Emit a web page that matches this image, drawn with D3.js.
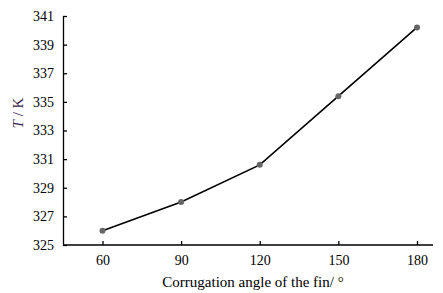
<!DOCTYPE html>
<html>
<head>
<meta charset="utf-8">
<script src="https://cdn.jsdelivr.net/npm/d3@7"></script>
<style>
  body { margin: 0; background: #fff; }
  text { font-family: "Liberation Serif", "Times New Roman", serif; }
</style>
</head>
<body>
<div id="chart"></div>
<script>
// values
const angles = ["60", "90", "120", "150", "180"];
const temps = [326.0, 328.0, 330.6, 335.4, 340.2];
const yTicks = [325, 327, 329, 331, 333, 335, 337, 339, 341];

const W = 443, H = 293;

const svg = d3.select("#chart")
    .append("svg")
    .attr("width", W)
    .attr("height", H);

const x = d3.scalePoint()
    .domain(angles)
    .range([102.5, 417]);

const y = d3.scaleLinear()
    .domain([325, 341])
    .range([245, 16]);

const xAxisG = svg.append("g")
    .attr("transform", "translate(0,245)")
    .call(d3.axisBottom(x).tickSizeInner(-4).tickSizeOuter(0).tickPadding(10));
xAxisG.select(".domain").attr("d", "M63,0H433");

const yAxisG = svg.append("g")
    .attr("transform", "translate(63,0)")
    .call(d3.axisLeft(y).tickValues(yTicks).tickFormat(d3.format("d"))
        .tickSizeInner(-4).tickSizeOuter(0).tickPadding(9));

svg.selectAll(".domain").attr("stroke", "#000").attr("stroke-width", 1.3);
svg.selectAll(".tick line").attr("stroke", "#000").attr("stroke-width", 1.3);
svg.selectAll(".tick text")
    .attr("font-size", 14)
    .attr("fill", "#000")
    .style("font-family", "'Liberation Serif', serif");

const line = d3.line()
    .x((d, i) => x(angles[i]))
    .y(d => y(d));

svg.append("path")
    .datum(temps)
    .attr("fill", "none")
    .attr("stroke", "#000")
    .attr("stroke-width", 1.6)
    .attr("d", line);

svg.selectAll("circle.pt")
    .data(temps)
    .enter()
    .append("circle")
    .attr("class", "pt")
    .attr("cx", (d, i) => x(angles[i]))
    .attr("cy", d => y(d))
    .attr("r", 3)
    .attr("fill", "#666");

// axis titles
svg.append("text")
    .attr("x", 253)
    .attr("y", 287)
    .attr("text-anchor", "middle")
    .attr("font-size", 15)
    .attr("fill", "#000")
    .text("Corrugation angle of the fin/ °");

const yl = svg.append("text")
    .attr("transform", "translate(23,113) rotate(-90)")
    .attr("text-anchor", "middle")
    .attr("font-size", 15)
    .attr("fill", "#3a1a4a");
yl.append("tspan").attr("font-style", "italic").text("T");
yl.append("tspan").text(" / K");
</script>
</body>
</html>
